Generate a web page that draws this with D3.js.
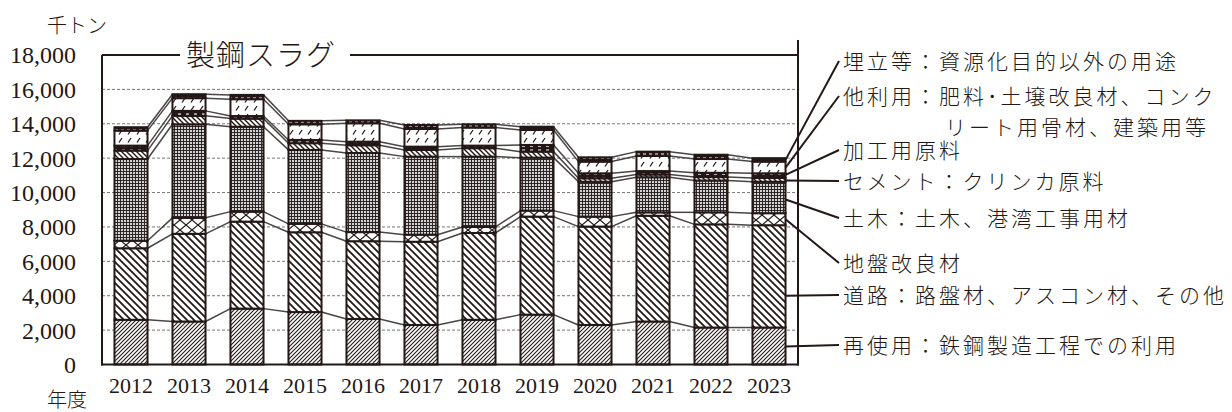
<!DOCTYPE html>
<html><head><meta charset="utf-8">
<script src="https://cdn.jsdelivr.net/npm/d3@7"></script>
<style>body{margin:0;background:#fff} svg{display:block}</style>
</head><body>
<svg id="c" width="1232" height="412"></svg>
<script>
// ---- data (千トン) ----
const years = ["2012","2013","2014","2015","2016","2017","2018","2019","2020","2021","2022","2023"];
const seriesKeys = ["reuse","road","groundImp","civil","cement","processing","otherUse","landfill"];
const reuse      = [2600,2500,3250,3050,2650,2300,2600,2900,2300,2500,2150,2150];
const road       = [4160,5100,5060,4640,4520,4840,5050,5700,5720,6150,6000,5950];
const groundImp  = [440,930,580,490,530,410,350,350,580,200,700,700];
const civil      = [4750,5440,4940,4300,4600,4540,4090,3080,2030,2040,1850,1830];
const cement     = [490,490,470,390,450,390,490,350,200,160,200,220];
const processing = [290,290,150,190,210,190,150,390,290,200,250,270];
const otherUse   = [870,740,980,910,1070,1030,1050,870,680,880,800,680];
const landfill   = [200,230,250,200,170,230,190,190,250,250,250,200];
const yTicks = [0,2000,4000,6000,8000,10000,12000,14000,16000,18000];
// legend labels (bottom -> top order matching seriesKeys)
const legendLabels = [
  ["再使用：鉄鋼製造工程での利用"],
  ["道路：路盤材、アスコン材、その他"],
  ["地盤改良材"],
  ["土木：土木、港湾工事用材"],
  ["セメント：クリンカ原料"],
  ["加工用原料"],
  ["他利用：肥料･土壌改良材、コンク","リート用骨材、建築用等"],
  ["埋立等：資源化目的以外の用途"]
];
// value on the last bar where each leader line touches
const leaderAnchor = [1050, 4000, 8450, 9600, 10700, 11030, 11450, 11900];
const title = "製鋼スラグ";
const unitLabel = "千トン";
const yearLabel = "年度";

// ---- layout ----
const INK = "#231815";
const L = 102, R = 798, T = 55, B = 364.5;
const svg = d3.select("#c");
const table = years.map((y,i)=>({year:y, reuse:reuse[i], road:road[i], groundImp:groundImp[i], civil:civil[i],
  cement:cement[i], processing:processing[i], otherUse:otherUse[i], landfill:landfill[i]}));
const stack = d3.stack().keys(seriesKeys)(table);

const x = d3.scaleBand().domain(years).range([L,R]).paddingInner(0.43).paddingOuter(0.215);
const y = d3.scaleLinear().domain([0,18000]).range([B,T]);

// ---- patterns ----
const defs = svg.append("defs");
function pat(id,w,h,draw,bg){const p=defs.append("pattern").attr("id",id).attr("patternUnits","userSpaceOnUse").attr("width",w).attr("height",h);
  p.append("rect").attr("width",w).attr("height",h).attr("fill",bg||"#fff"); draw(p); return p;}
pat("p0",4,4,p=>p.append("path").attr("d","M0,4L4,0M-1,1L1,-1M3,5L5,3").attr("stroke",INK).attr("stroke-width",1.1));
pat("p1",7,7,p=>p.append("path").attr("d","M0,0L7,7M-1,6L1,8M6,-1L8,1").attr("stroke",INK).attr("stroke-width",1.8));
pat("p2",12,10,p=>p.append("path").attr("d","M0,0L12,10M12,0L0,10").attr("stroke",INK).attr("stroke-width",1.2));
pat("p3",3,3,p=>{p.append("rect").attr("width",3).attr("height",1).attr("fill","#2e2626");p.append("rect").attr("width",1).attr("height",3).attr("fill","#2e2626");},"#d4d4d4");
pat("p4",5,5,p=>p.append("path").attr("d","M0,0L5,5M-1,4L1,6M4,-1L6,1").attr("stroke",INK).attr("stroke-width",1.4));
pat("p5",8,4,p=>{p.append("rect").attr("width",8).attr("height",4).attr("fill",INK);p.append("rect").attr("x",2).attr("y",1.5).attr("width",3).attr("height",1.2).attr("fill","#fff");});
pat("p6",9,8,p=>p.append("path").attr("d","M2,6.5L5,2").attr("stroke",INK).attr("stroke-width",1.3));
pat("p7",6,4,p=>{p.append("rect").attr("width",6).attr("height",4).attr("fill",INK);p.append("rect").attr("x",1).attr("y",1.5).attr("width",3).attr("height",1).attr("fill","#fff");});

// ---- gridlines ----
svg.append("g").selectAll("line").data(yTicks.filter(d=>d>0&&d<18000)).join("line")
  .attr("x1",L).attr("x2",R).attr("y1",d=>y(d)).attr("y2",d=>y(d))
  .attr("stroke","#777").attr("stroke-width",1).attr("stroke-dasharray","3,2");

// ---- series connector lines ----
const conn = svg.append("g").attr("fill","none").attr("stroke","#4a4444").attr("stroke-width",1.5);
stack.forEach(s=>{
  for(let i=0;i<years.length-1;i++){
    conn.append("line").attr("x1",x(years[i])+x.bandwidth()).attr("y1",y(s[i][1]))
      .attr("x2",x(years[i+1])).attr("y2",y(s[i+1][1]));
  }
});

// ---- bars ----
svg.append("g").selectAll("g").data(stack).join("g")
  .attr("fill",(d,i)=>`url(#p${i})`)
  .selectAll("rect").data(d=>d).join("rect")
  .attr("x",d=>x(d.data.year)).attr("width",x.bandwidth())
  .attr("y",d=>y(d[1])).attr("height",d=>y(d[0])-y(d[1]))
  .attr("stroke",INK).attr("stroke-width",2);

// ---- frame ----
const fr = svg.append("g").attr("stroke",INK).attr("stroke-width",2).attr("fill","none");
fr.append("line").attr("x1",L).attr("x2",L).attr("y1",T).attr("y2",B+1);
fr.append("line").attr("x1",R).attr("x2",R).attr("y1",40).attr("y2",B+1);
fr.append("line").attr("x1",L-1).attr("x2",R+1).attr("y1",B).attr("y2",B);
fr.append("line").attr("x1",L).attr("x2",180).attr("y1",T).attr("y2",T);
fr.append("line").attr("x1",350).attr("x2",R).attr("y1",T).attr("y2",T);

// ---- y axis labels ----
svg.append("g").selectAll("text").data(yTicks).join("text")
  .attr("x",76).attr("y",d=>y(d)).attr("dy","0.35em").attr("text-anchor","end")
  .attr("font-family","Liberation Serif").attr("font-weight",400).attr("font-size",24).attr("fill",INK)
  .text(d=>d3.format(",")(d));

// ---- x axis labels ----
svg.append("g").selectAll("text").data(years).join("text")
  .attr("x",d=>x(d)+x.bandwidth()/2).attr("y",393).attr("text-anchor","middle")
  .attr("font-family","Liberation Serif").attr("font-weight",400).attr("font-size",22).attr("fill",INK)
  .text(d=>d);

const jp = "'Noto Sans CJK JP', sans-serif";
svg.append("text").attr("x",47).attr("y",33).attr("font-family",jp).attr("font-weight",300).attr("font-size",20).attr("fill",INK).text(unitLabel);
svg.append("text").attr("x",47).attr("y",407).attr("font-family",jp).attr("font-weight",300).attr("font-size",20).attr("fill",INK).text(yearLabel);
svg.append("text").attr("x",186).attr("y",66).attr("font-family",jp).attr("font-weight",300).attr("font-size",29).attr("letter-spacing",1).attr("fill",INK).text(title);

// ---- legend with leader lines ----
const labelY = [345, 295, 263, 218, 181, 150, 96, 61];
const lastX = x(years[years.length-1]) + x.bandwidth();
const lg = svg.append("g");
seriesKeys.forEach((k,i)=>{
  lg.append("line").attr("x1",lastX).attr("y1",y(leaderAnchor[i])).attr("x2",839).attr("y2",labelY[i])
    .attr("stroke",INK).attr("stroke-width",2);
  legendLabels[i].forEach((t,j)=>{
    lg.append("text").attr("x", j===0?843:945).attr("y",labelY[i]+j*31).attr("dy","0.36em")
      .attr("font-family",jp).attr("font-weight",300).attr("font-size",21).attr("letter-spacing",3)
      .attr("fill",INK).text(t);
  });
});
</script>
</body></html>
